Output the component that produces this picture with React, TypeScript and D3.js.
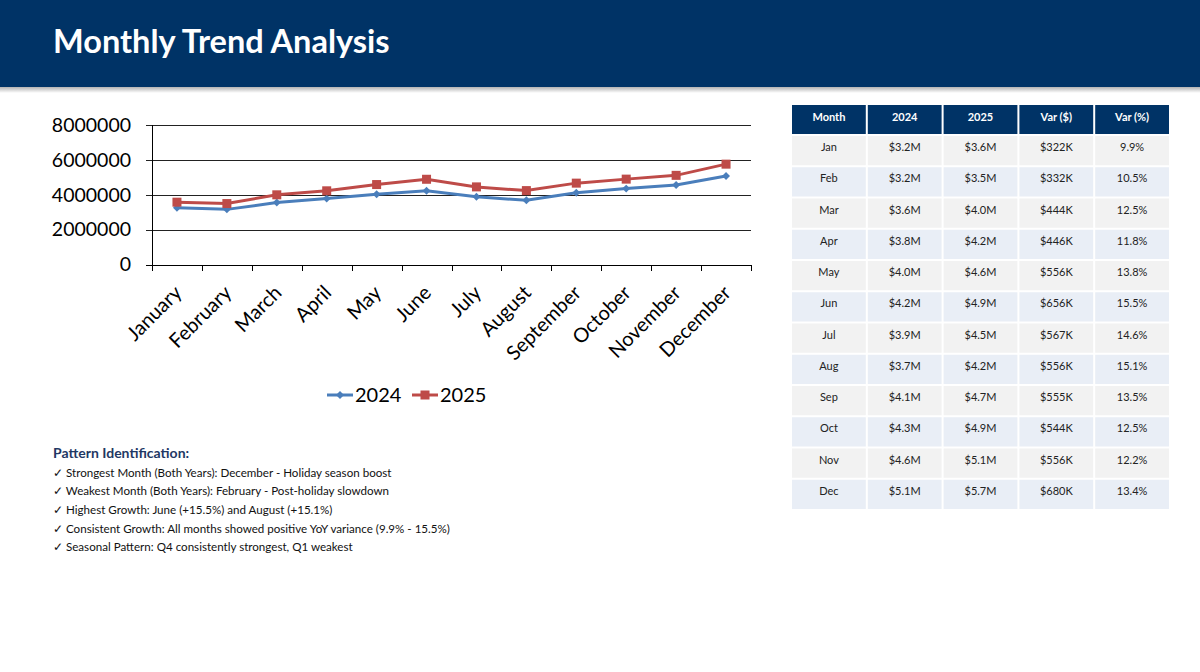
import React, { useEffect, useRef } from 'react';
import * as d3 from 'd3';

// chart data
const months = ['January', 'February', 'March', 'April', 'May', 'June', 'July', 'August', 'September', 'October', 'November', 'December'];
const sales2024 = [3252000, 3162000, 3552000, 3780000, 4029000, 4232000, 3884000, 3682000, 4111000, 4352000, 4557000, 5075000];
const sales2025 = [3574000, 3494000, 3996000, 4226000, 4585000, 4888000, 4451000, 4238000, 4666000, 4896000, 5113000, 5755000];
const yTicks = [0, 2000000, 4000000, 6000000, 8000000];

// table data
const tableHeaders = ['Month', '2024', '2025', 'Var ($)', 'Var (%)'];
const shortMonths = ['Jan', 'Feb', 'Mar', 'Apr', 'May', 'Jun', 'Jul', 'Aug', 'Sep', 'Oct', 'Nov', 'Dec'];
const label2024 = ['$3.2M', '$3.2M', '$3.6M', '$3.8M', '$4.0M', '$4.2M', '$3.9M', '$3.7M', '$4.1M', '$4.3M', '$4.6M', '$5.1M'];
const label2025 = ['$3.6M', '$3.5M', '$4.0M', '$4.2M', '$4.6M', '$4.9M', '$4.5M', '$4.2M', '$4.7M', '$4.9M', '$5.1M', '$5.7M'];
const varDollar = ['$322K', '$332K', '$444K', '$446K', '$556K', '$656K', '$567K', '$556K', '$555K', '$544K', '$556K', '$680K'];
const varPct = ['9.9%', '10.5%', '12.5%', '11.8%', '13.8%', '15.5%', '14.6%', '15.1%', '13.5%', '12.5%', '12.2%', '13.4%'];

const notes = [
  '✓ Strongest Month (Both Years): December - Holiday season boost',
  '✓ Weakest Month (Both Years): February - Post-holiday slowdown',
  '✓ Highest Growth: June (+15.5%) and August (+15.1%)',
  '✓ Consistent Growth: All months showed positive YoY variance (9.9% - 15.5%)',
  '✓ Seasonal Pattern: Q4 consistently strongest, Q1 weakest',
];

const NAVY = '#003366';
const BLUE = '#4A7EBB';
const RED = '#BE4B48';
const FONT = 'Lato, "Noto Sans", sans-serif';

function App() {
  const ref = useRef<SVGSVGElement | null>(null);

  useEffect(() => {
    if (!ref.current) return;
    const svg = d3.select(ref.current);
    svg.selectAll('*').remove();

    // header band
    const defs = svg.append('defs');
    const grad = defs.append('linearGradient').attr('id', 'shadow').attr('x1', 0).attr('y1', 0).attr('x2', 0).attr('y2', 1);
    grad.append('stop').attr('offset', '0%').attr('stop-color', '#000').attr('stop-opacity', 0.3);
    grad.append('stop').attr('offset', '100%').attr('stop-color', '#000').attr('stop-opacity', 0);
    svg.append('rect').attr('x', 0).attr('y', 87).attr('width', 1200).attr('height', 6).attr('fill', 'url(#shadow)');
    svg.append('rect').attr('x', 0).attr('y', 0).attr('width', 1200).attr('height', 87).attr('fill', NAVY);
    svg.append('text')
      .attr('x', 53).attr('y', 53)
      .attr('fill', '#fff')
      .style('font-family', FONT)
      .style('font-weight', 700)
      .style('font-size', '32.5px')
      .text('Monthly Trend Analysis');

    // line chart
    const x = d3.scaleBand().domain(months).range([152, 751]);
    const y = d3.scaleLinear().domain([0, 8000000]).range([264.5, 125]);
    const g = svg.append('g');

    // gridlines
    yTicks.forEach(t => {
      g.append('line')
        .attr('x1', 146).attr('x2', 751)
        .attr('y1', Math.round(y(t)) + 0.5).attr('y2', Math.round(y(t)) + 0.5)
        .attr('stroke', t === 0 ? '#000' : '#222').attr('stroke-width', 1);
      g.append('text')
        .attr('x', 131).attr('y', y(t))
        .attr('dy', '0.35em')
        .attr('text-anchor', 'end')
        .style('font-family', FONT)
        .style('font-size', '19.5px')
        .attr('fill', '#000')
        .text(String(t));
    });
    g.append('line').attr('x1', 152.5).attr('x2', 152.5).attr('y1', 125).attr('y2', 271).attr('stroke', '#000');
    months.forEach(m => {
      const bx = Math.round((x(m) as number) + x.bandwidth()) + 0.5;
      g.append('line').attr('x1', bx).attr('x2', bx).attr('y1', 265).attr('y2', 271).attr('stroke', '#000');
      g.append('text')
        .attr('transform', `translate(${(x(m) as number) + x.bandwidth() / 2 + 6},294) rotate(-45)`)
        .attr('text-anchor', 'end')
        .style('font-family', FONT)
        .style('font-size', '20px')
        .attr('fill', '#000')
        .text(m);
    });

    const cx = (i: number) => (x(months[i]) as number) + x.bandwidth() / 2;
    const line = d3.line<number>().x((_, i) => cx(i)).y(d => y(d));

    g.append('path').datum(sales2024).attr('d', line).attr('fill', 'none').attr('stroke', BLUE).attr('stroke-width', 3);
    g.append('path').datum(sales2025).attr('d', line).attr('fill', 'none').attr('stroke', RED).attr('stroke-width', 3);

    const diamond = d3.symbol().type(d3.symbolDiamond2).size(40);
    g.selectAll('.m24').data(sales2024).enter().append('path')
      .attr('transform', (d, i) => `translate(${cx(i)},${y(d)})`)
      .attr('d', diamond).attr('fill', BLUE);
    g.selectAll('.m25').data(sales2025).enter().append('rect')
      .attr('x', (d, i) => cx(i) - 4.5).attr('y', d => y(d) - 4.5)
      .attr('width', 9).attr('height', 9).attr('fill', RED);

    // legend
    const leg = svg.append('g');
    leg.append('line').attr('x1', 327).attr('x2', 353).attr('y1', 395).attr('y2', 395).attr('stroke', BLUE).attr('stroke-width', 3);
    leg.append('path').attr('transform', 'translate(340,395)').attr('d', diamond).attr('fill', BLUE);
    leg.append('text').attr('x', 355).attr('y', 402).style('font-family', FONT).style('font-size', '20px').text('2024');
    leg.append('line').attr('x1', 412).attr('x2', 438).attr('y1', 395).attr('y2', 395).attr('stroke', RED).attr('stroke-width', 3);
    leg.append('rect').attr('x', 420.5).attr('y', 390.5).attr('width', 9).attr('height', 9).attr('fill', RED);
    leg.append('text').attr('x', 440).attr('y', 402).style('font-family', FONT).style('font-size', '20px').text('2025');

    // pattern notes
    svg.append('text')
      .attr('x', 53).attr('y', 458)
      .attr('fill', '#1F3864')
      .style('font-family', FONT)
      .style('font-weight', 700)
      .style('font-size', '14px')
      .text('Pattern Identification:');
    notes.forEach((n, i) => {
      svg.append('text')
        .attr('x', 53).attr('y', 476.5 + i * 18.7)
        .attr('fill', '#111')
        .style('font-family', FONT)
        .style('font-size', '11.6px')
        .text(n);
    });

    // table
    const cols = d3.scaleBand().domain(tableHeaders).range([792, 1171]);
    const rows = d3.scaleBand().domain(shortMonths).range([136, 511]);
    const cw = cols.bandwidth() - 2;
    const rh = rows.bandwidth() - 2;
    const t = svg.append('g');
    tableHeaders.forEach(h => {
      const x0 = cols(h) as number;
      t.append('rect').attr('x', x0).attr('y', 105).attr('width', cw).attr('height', 29).attr('fill', NAVY);
      t.append('text')
        .attr('x', x0 + cw / 2).attr('y', 121)
        .attr('text-anchor', 'middle')
        .attr('fill', '#fff')
        .style('font-family', FONT)
        .style('font-weight', 700)
        .style('font-size', '11px')
        .text(h);
    });
    shortMonths.forEach((m, i) => {
      const y0 = rows(m) as number;
      const cells = [m, label2024[i], label2025[i], varDollar[i], varPct[i]];
      cells.forEach((c, j) => {
        const x0 = cols(tableHeaders[j]) as number;
        t.append('rect').attr('x', x0).attr('y', y0).attr('width', cw).attr('height', rh)
          .attr('fill', i % 2 === 0 ? '#F2F2F2' : '#E9EEF6');
        t.append('text')
          .attr('x', x0 + cw / 2).attr('y', y0 + 15)
          .attr('text-anchor', 'middle')
          .attr('fill', '#222')
          .style('font-family', FONT)
          .style('font-size', '11px')
          .text(c);
      });
    });
  }, []);

  return (
    <div style={{ position: 'absolute', left: 0, top: 0 }}>
      <svg ref={ref} width={1200} height={672} style={{ display: 'block', background: '#fff' }} />
    </div>
  );
}

export default App;
